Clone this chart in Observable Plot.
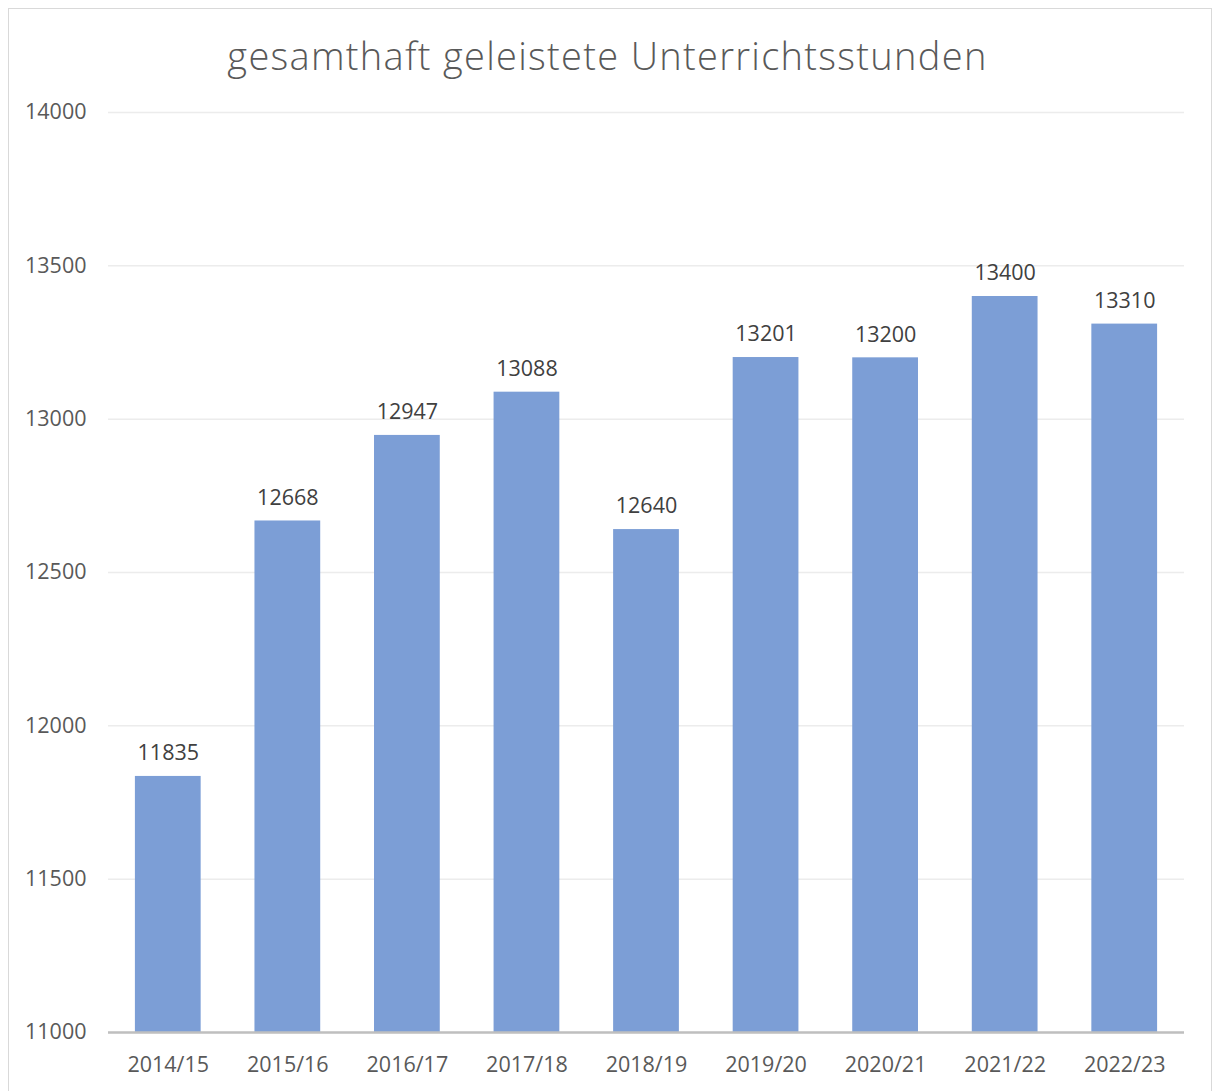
<!DOCTYPE html>
<html>
<head>
<meta charset="utf-8">
<script src="https://cdn.jsdelivr.net/npm/d3@7"></script>
<script src="https://cdn.jsdelivr.net/npm/@observablehq/plot@0.6"></script>
<style>
  html, body { margin: 0; padding: 0; background: #fff; }
  #frame { position: absolute; left: 8px; top: 8px; width: 1204px; height: 1100px; border: 1px solid #d9d9d9; box-sizing: border-box; }
  #title { position: absolute; left: 0; top: 0; width: 1215px; height: 90px; line-height: 110px; text-align: center;
    font-family: "Open Sans", sans-serif; font-weight: 300; font-size: 38px; color: #595959; letter-spacing: 1.3px; }
  #chart { position: absolute; left: 0; top: 90px; }
</style>
</head>
<body>
<div id="frame"></div>
<div id="title">gesamthaft geleistete Unterrichtsstunden</div>
<div id="chart"></div>
<script>
const years = ["2014/15","2015/16","2016/17","2017/18","2018/19","2019/20","2020/21","2021/22","2022/23"];
const values = [11835, 12668, 12947, 13088, 12640, 13201, 13200, 13400, 13310];
const yTicks = [11000, 11500, 12000, 12500, 13000, 13500, 14000];

const data = years.map((year, i) => ({year, value: values[i]}));

const chart = Plot.plot({
  width: 1215,
  height: 1001,
  marginTop: 22,
  marginBottom: 59,
  marginLeft: 108,
  marginRight: 31,
  style: {fontFamily: "Open Sans, sans-serif", fontSize: "22px", color: "#595959", background: "transparent"},
  x: {domain: years, paddingInner: 0.45, paddingOuter: 0.225, round: false, label: null},
  y: {domain: [11000, 14000], label: null},
  marks: [
    Plot.gridY(yTicks, {stroke: "#ececec", strokeOpacity: 1, strokeWidth: 1.5}),
    Plot.barY(data, {x: "year", y1: 11000, y2: "value", fill: "#7c9ed6"}),
    Plot.ruleY([11000], {stroke: "#bfbfbf", strokeWidth: 2.5}),
    Plot.text(data, {x: "year", y: "value", text: d => String(d.value), dy: -23, fontSize: 21.5, fill: "#404040"}),
    Plot.axisY({ticks: yTicks, tickSize: 0, tickPadding: 22, tickFormat: d3.format("d"), fontSize: 21.5, fill: "#595959", label: null}),
    Plot.axisX({tickSize: 0, tickPadding: 24, fontSize: 21.5, fill: "#595959", label: null})
  ]
});
document.getElementById("chart").appendChild(chart);
</script>
</body>
</html>
